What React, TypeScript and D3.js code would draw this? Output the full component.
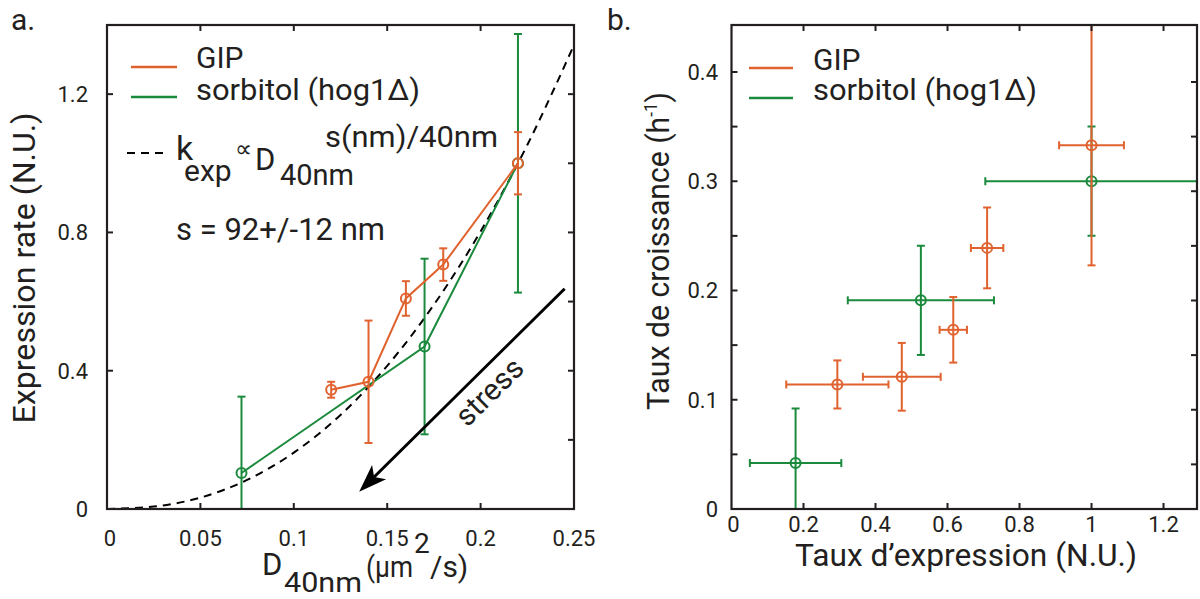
import React from "react";
import * as d3 from "d3";

const FONT = "Roboto, 'Liberation Sans', sans-serif";
const INK = "#231f20";
const ORANGE = "#e0622f";
const GREEN = "#1b8a3d";

// ---------- Panel a data ----------
const gipD = [0.12, 0.14, 0.16, 0.18, 0.22];
const gipRate = [0.345, 0.368, 0.609, 0.707, 1.0];
const gipRateErr = [0.023, 0.177, 0.05, 0.047, 0.09];
const sorbD = [0.072, 0.17, 0.22];
const sorbRate = [0.104, 0.47, 1.0];
const sorbRateErr = [0.221, 0.254, 0.374];
const fitD = [0, 0.025, 0.05, 0.075, 0.1, 0.125, 0.15, 0.175, 0.2, 0.225, 0.25];
const fitRate = [0, 0.007, 0.033, 0.084, 0.163, 0.272, 0.414, 0.591, 0.803, 1.053, 1.342];
const stressFrom = [0.245, 0.637];
const stressTo = [0.135, 0.05];
const aXTicks = [0, 0.05, 0.1, 0.15, 0.2, 0.25];
const aYTicks = [0, 0.4, 0.8, 1.2];
const aYTicksRight = [0.2, 0.4, 0.6, 0.8, 1.0, 1.2];

// ---------- Panel b data ----------
const gipExpr = [0.294, 0.473, 0.616, 0.71, 1.0];
const gipExprErr = [0.142, 0.108, 0.038, 0.045, 0.09];
const gipGrowth = [0.114, 0.121, 0.164, 0.239, 0.333];
const gipGrowthErr = [0.022, 0.031, 0.03, 0.037, 0.11];
const sorbExpr = [0.178, 0.526, 1.0];
const sorbExprErr = [0.127, 0.203, 0.295];
const sorbGrowth = [0.042, 0.191, 0.3];
const sorbGrowthErr = [0.05, 0.05, 0.05];
const bXTicks = [0, 0.2, 0.4, 0.6, 0.8, 1, 1.2];
const bYTicks = [0, 0.1, 0.2, 0.3, 0.4];
const bYMinor = [0.05, 0.1, 0.15, 0.2, 0.25, 0.3, 0.35, 0.4];

const fmt = d3.format("~g");

const xA = d3.scaleLinear().domain([0, 0.25]).range([107, 574]);
const yA = d3.scaleLinear().domain([0, 1.4]).range([509, 25]);
const xB = d3.scaleLinear().domain([0, 1.293]).range([731.5, 1197]);
const yB = d3.scaleLinear().domain([0, 0.443]).range([509, 25]);

const TL = 6; // tick length
const CAP = 4;

function Frame({ x, y }: any) {
  const [x0, x1] = x.range();
  const [y0, y1] = y.range();
  return (
    <rect x={x0} y={y1} width={x1 - x0} height={y0 - y1} fill="none" stroke={INK} strokeWidth={2.2} />
  );
}

function VErr({ x, y, xs, ys, es, color }: any) {
  return (
    <g stroke={color} strokeWidth={2} fill="none">
      {xs.map((d: number, i: number) => {
        const cx = x(d);
        const top = y(ys[i] + es[i]);
        const bot = y(ys[i] - es[i]);
        return (
          <g key={i}>
            <line x1={cx} x2={cx} y1={top} y2={bot} />
            <line x1={cx - CAP} x2={cx + CAP} y1={top} y2={top} />
            <line x1={cx - CAP} x2={cx + CAP} y1={bot} y2={bot} />
          </g>
        );
      })}
    </g>
  );
}

function HErr({ x, y, xs, ys, es, color }: any) {
  return (
    <g stroke={color} strokeWidth={2} fill="none">
      {xs.map((d: number, i: number) => {
        const cy = y(ys[i]);
        const l = x(d - es[i]);
        const r = x(d + es[i]);
        return (
          <g key={i}>
            <line x1={l} x2={r} y1={cy} y2={cy} />
            <line x1={l} x2={l} y1={cy - CAP} y2={cy + CAP} />
            <line x1={r} x2={r} y1={cy - CAP} y2={cy + CAP} />
          </g>
        );
      })}
    </g>
  );
}

function Markers({ x, y, xs, ys, color }: any) {
  return (
    <g stroke={color} strokeWidth={2} fill="none">
      {xs.map((d: number, i: number) => (
        <circle key={i} cx={x(d)} cy={y(ys[i])} r={5} />
      ))}
    </g>
  );
}

export default function App() {
  const gipPath = d3.line<number>().x((d) => xA(d)).y((_, i) => yA(gipRate[i]))(gipD) || "";
  const sorbPath = d3.line<number>().x((d) => xA(d)).y((_, i) => yA(sorbRate[i]))(sorbD) || "";
  const fitPath =
    d3
      .line<number>()
      .x((d) => xA(d))
      .y((_, i) => yA(fitRate[i]))
      .curve(d3.curveMonotoneX)(fitD) || "";

  // arrow
  const ax0 = xA(stressFrom[0]);
  const ay0 = yA(stressFrom[1]);
  const ax1 = xA(stressTo[0]);
  const ay1 = yA(stressTo[1]);
  const ang = Math.atan2(ay1 - ay0, ax1 - ax0);
  const cos = Math.cos(ang);
  const sin = Math.sin(ang);
  const headLen = 28;
  const headW = 10;
  const bx = ax1 - headLen * cos;
  const by = ay1 - headLen * sin;
  const px = -sin;
  const py = cos;
  const nx = ax1 - (headLen - 7) * cos;
  const ny = ay1 - (headLen - 7) * sin;
  const head = `M${ax1},${ay1} L${bx + px * headW},${by + py * headW} L${nx},${ny} L${bx - px * headW},${by - py * headW} Z`;
  const textAngle = (Math.atan2(ay0 - ay1, ax0 - ax1) * 180) / Math.PI;

  const [ax0r, ax1r] = xA.range();
  const [ay0r, ay1r] = yA.range();
  const [bx0r, bx1r] = xB.range();
  const [by0r, by1r] = yB.range();

  return (
    <svg
      width={1200}
      height={599}
      style={{ position: "absolute", left: 0, top: 0, background: "#fff" }}
      fontFamily={FONT}
    >
      <defs>
        <clipPath id="clipA">
          <rect x={ax0r} y={ay1r} width={ax1r - ax0r} height={ay0r - ay1r} />
        </clipPath>
        <clipPath id="clipB">
          <rect x={bx0r} y={by1r} width={bx1r - bx0r} height={by0r - by1r} />
        </clipPath>
      </defs>
      <rect width={1200} height={599} fill="#fff" />

      {/* ================= Panel a ================= */}
      <text x={11} y={30} fontSize={30} fill={INK}>a.</text>

      <g clipPath="url(#clipA)">
        <path d={fitPath} fill="none" stroke="#000" strokeWidth={2} strokeDasharray="8,6" />
        <path d={sorbPath} fill="none" stroke={GREEN} strokeWidth={2} />
        <VErr x={xA} y={yA} xs={sorbD} ys={sorbRate} es={sorbRateErr} color={GREEN} />
        <Markers x={xA} y={yA} xs={sorbD} ys={sorbRate} color={GREEN} />
        <path d={gipPath} fill="none" stroke={ORANGE} strokeWidth={2} />
        <VErr x={xA} y={yA} xs={gipD} ys={gipRate} es={gipRateErr} color={ORANGE} />
        <Markers x={xA} y={yA} xs={gipD} ys={gipRate} color={ORANGE} />
      </g>

      {/* stress arrow */}
      <line x1={ax0} y1={ay0} x2={nx} y2={ny} stroke="#000" strokeWidth={3} />
      <path d={head} fill="#000" />
      <text
        transform={`translate(${xA(0.2085)},${yA(0.318)}) rotate(${textAngle})`}
        textAnchor="middle"
        fontSize={30}
        fill={INK}
      >
        stress
      </text>

      {/* frame & ticks */}
      <Frame x={xA} y={yA} />
      <g stroke={INK} strokeWidth={2}>
        {aXTicks.slice(1, -1).map((t) => (
          <g key={"ax" + t}>
            <line x1={xA(t)} x2={xA(t)} y1={ay0r} y2={ay0r - TL} />
            <line x1={xA(t)} x2={xA(t)} y1={ay1r} y2={ay1r + TL} />
          </g>
        ))}
        {aYTicks.slice(1).map((t) => (
          <line key={"ayl" + t} x1={ax0r} x2={ax0r + TL} y1={yA(t)} y2={yA(t)} />
        ))}
        {aYTicksRight.map((t) => (
          <line key={"ayr" + t} x1={ax1r} x2={ax1r - TL} y1={yA(t)} y2={yA(t)} />
        ))}
      </g>
      <g fontSize={22} fill={INK}>
        {aXTicks.map((t) => (
          <text key={"axl" + t} x={xA(t) + (t === 0 ? 3 : 0)} y={546} textAnchor="middle">
            {fmt(t)}
          </text>
        ))}
        {aYTicks.map((t) => (
          <text key={"ayl" + t} x={88} y={yA(t)} dy="0.36em" textAnchor="end">
            {fmt(t)}
          </text>
        ))}
      </g>

      {/* axis labels */}
      <text
        transform="translate(35,268) rotate(-90)"
        textAnchor="middle"
        fontSize={32}
        fill={INK}
        textLength={311}
        lengthAdjust="spacingAndGlyphs"
      >
        Expression rate (N.U.)
      </text>
      <g fill={INK}>
        <text x={262} y={575} fontSize={31}>D</text>
        <text x={284} y={592} fontSize={27} textLength={78} lengthAdjust="spacingAndGlyphs">40nm</text>
        <text x={366} y={577} fontSize={30} textLength={47} lengthAdjust="spacingAndGlyphs">(µm</text>
        <text x={414} y={553} fontSize={28}>2</text>
        <text x={430} y={577} fontSize={30}>/s)</text>
      </g>

      {/* legend a */}
      <line x1={131} x2={177} y1={67} y2={67} stroke={ORANGE} strokeWidth={2.4} />
      <line x1={131} x2={177} y1={97} y2={97} stroke={GREEN} strokeWidth={2.4} />
      <g fontSize={30} fill={INK}>
        <text x={196} y={68}>GIP</text>
        <text x={196} y={100} textLength={224} lengthAdjust="spacingAndGlyphs">sorbitol (hog1Δ)</text>
      </g>

      {/* fit formula */}
      <line x1={127} x2={165} y1={153} y2={153} stroke="#000" strokeWidth={2} strokeDasharray="8,6" />
      <g fill={INK}>
        <text x={176} y={160} fontSize={34}>k</text>
        <text x={184} y={181} fontSize={30}>exp</text>
        <text x={235} y={157} fontSize={24}>∝</text>
        <text x={255} y={170} fontSize={31}>D</text>
        <text x={280} y={185} fontSize={29}>40nm</text>
        <text x={325} y={147} fontSize={30} textLength={173} lengthAdjust="spacingAndGlyphs">s(nm)/40nm</text>
        <text x={176} y={240} fontSize={31}>s = 92+/-12 nm</text>
      </g>

      {/* ================= Panel b ================= */}
      <text x={607} y={30} fontSize={30} fill={INK}>b.</text>

      <g clipPath="url(#clipB)">
        <HErr x={xB} y={yB} xs={sorbExpr} ys={sorbGrowth} es={sorbExprErr} color={GREEN} />
        <VErr x={xB} y={yB} xs={sorbExpr} ys={sorbGrowth} es={sorbGrowthErr} color={GREEN} />
        <Markers x={xB} y={yB} xs={sorbExpr} ys={sorbGrowth} color={GREEN} />
        <HErr x={xB} y={yB} xs={gipExpr} ys={gipGrowth} es={gipExprErr} color={ORANGE} />
        <VErr x={xB} y={yB} xs={gipExpr} ys={gipGrowth} es={gipGrowthErr} color={ORANGE} />
        <Markers x={xB} y={yB} xs={gipExpr} ys={gipGrowth} color={ORANGE} />
      </g>

      <Frame x={xB} y={yB} />
      <g stroke={INK} strokeWidth={2}>
        {bXTicks.slice(1).map((t) => (
          <g key={"bx" + t}>
            <line x1={xB(t)} x2={xB(t)} y1={by0r} y2={by0r - TL} />
            <line x1={xB(t)} x2={xB(t)} y1={by1r} y2={by1r + TL} />
          </g>
        ))}
        {bYMinor.map((t) => (
          <g key={"by" + t}>
            <line x1={bx0r} x2={bx0r + TL} y1={yB(t)} y2={yB(t)} />
            <line x1={bx1r} x2={bx1r - TL} y1={yB(t) + 10} y2={yB(t) + 10} />
          </g>
        ))}
      </g>
      <g fontSize={22} fill={INK}>
        {bXTicks.map((t) => (
          <text key={"bxl" + t} x={xB(t) + (t === 0 ? 2 : 0)} y={532} textAnchor="middle">
            {fmt(t)}
          </text>
        ))}
        {bYTicks.map((t) => (
          <text key={"byl" + t} x={718} y={yB(t)} dy="0.36em" textAnchor="end">
            {fmt(t)}
          </text>
        ))}
      </g>

      <text
        transform="translate(669,251) rotate(-90)"
        textAnchor="middle"
        fontSize={32}
        fill={INK}
        textLength={318}
        lengthAdjust="spacingAndGlyphs"
      >
        Taux de croissance (h<tspan fontSize={18} dy={-12}>-1</tspan>
        <tspan dy={12}>)</tspan>
      </text>
      <text
        x={966}
        y={566}
        textAnchor="middle"
        fontSize={31}
        fill={INK}
        textLength={342}
        lengthAdjust="spacingAndGlyphs"
      >
        Taux d’expression (N.U.)
      </text>

      {/* legend b */}
      <line x1={749} x2={793} y1={68} y2={68} stroke={ORANGE} strokeWidth={2.4} />
      <line x1={749} x2={793} y1={98} y2={98} stroke={GREEN} strokeWidth={2.4} />
      <g fontSize={30} fill={INK}>
        <text x={813} y={70}>GIP</text>
        <text x={813} y={100} textLength={224} lengthAdjust="spacingAndGlyphs">sorbitol (hog1Δ)</text>
      </g>
    </svg>
  );
}
